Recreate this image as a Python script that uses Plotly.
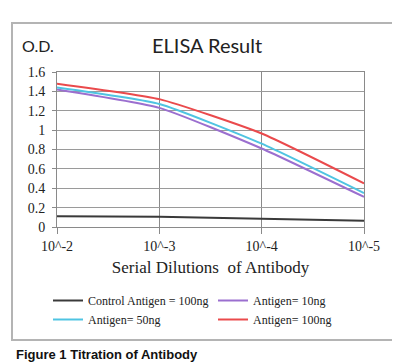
import plotly.graph_objects as go

dilutions = ["10^-2", "10^-3", "10^-4", "10^-5"]
control_100ng = [0.11, 0.105, 0.085, 0.065]
antigen_10ng = [1.42, 1.23, 0.81, 0.31]
antigen_50ng = [1.44, 1.27, 0.86, 0.35]
antigen_100ng = [1.48, 1.32, 0.965, 0.45]
y_ticks = [0, 0.2, 0.4, 0.6, 0.8, 1, 1.2, 1.4, 1.6]

series = [
    ("Control Antigen = 100ng", control_100ng, "#3a3a3a"),
    ("Antigen= 10ng", antigen_10ng, "#9b6fcf"),
    ("Antigen= 50ng", antigen_50ng, "#4fc4e2"),
    ("Antigen= 100ng", antigen_100ng, "#ea4a4c"),
]

# page has an 8px body margin; figure sized to fit the window
OFF = 8
W, H = 400 - OFF, 363 - OFF
L, T, R, B = 57 - OFF, 72 - OFF, 400 - 364, 363 - 227
PW, PH = W - L - R, H - T - B


def px(xp):
    return (xp - OFF - L) / PW


def py(yp):
    return (H - B - (yp - OFF)) / PH


fig = go.Figure()
for name, vals, col in series:
    fig.add_trace(go.Scatter(
        x=dilutions, y=vals, name=name, mode="lines",
        line=dict(color=col, width=2, shape="spline", smoothing=0.5),
    ))

serif = "Liberation Serif"
fig.update_layout(
    width=W, height=H,
    margin=dict(l=L, r=R, t=T, b=B),
    paper_bgcolor="white", plot_bgcolor="white",
    showlegend=True,
    legend=dict(
        orientation="h", x=px(48), xanchor="left", y=py(286), yanchor="top",
        entrywidth=120, font=dict(family=serif, size=12, color="#222"),
        bgcolor="rgba(0,0,0,0)", traceorder="normal",
    ),
    xaxis=dict(
        type="category", range=[0, 3], showgrid=True, gridcolor="#8a8a8a",
        gridwidth=1, showline=True, linecolor="#8a8a8a", mirror=True,
        ticks="outside", ticklen=6, tickcolor="#8a8a8a",
        tickfont=dict(family=serif, size=14, color="#222"),
        title=dict(text="Serial Dilutions  of Antibody",
                   font=dict(family=serif, size=17, color="#222"), standoff=8),
        zeroline=False,
    ),
    yaxis=dict(
        range=[0, 1.6], tickvals=y_ticks,
        ticktext=[("%g" % v) for v in y_ticks],
        showgrid=True, gridcolor="#9a9a9a", gridwidth=1,
        showline=True, linecolor="#8a8a8a", mirror=True,
        ticks="outside", ticklen=4, tickcolor="#8a8a8a", ticklabelstandoff=4,
        tickfont=dict(family=serif, size=14, color="#222"),
        zeroline=False,
    ),
    shapes=[dict(type="rect", xref="paper", yref="paper",
                 x0=px(12), x1=px(393), y0=py(340), y1=py(23),
                 line=dict(color="#b4b4b4", width=2), layer="below")],
    annotations=[
        dict(text="ELISA Result", xref="paper", yref="paper",
             x=px(207), y=py(45), xanchor="center", yanchor="middle",
             showarrow=False, font=dict(family="Lato", size=20, color="#222")),
        dict(text="O.D.", xref="paper", yref="paper",
             x=px(38), y=py(45), xanchor="center", yanchor="middle",
             showarrow=False, font=dict(family="Lato", size=16, color="#222")),
        dict(text="<b>Figure 1 Titration of Antibody</b>", xref="paper", yref="paper",
             x=px(14), xanchor="left", y=py(354), yanchor="middle", showarrow=False,
             font=dict(family="Liberation Sans", size=13, color="#111")),
    ],
)

fig.write_html("out.html")
